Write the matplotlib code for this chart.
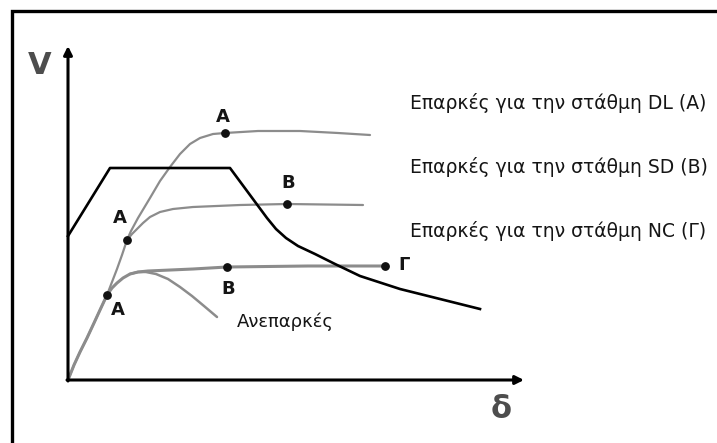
import matplotlib.pyplot as plt

# capacity / demand curve (black)
demand_d = [0, 42, 162, 199, 208, 218, 230, 247, 267, 292, 332, 372, 412]
demand_v = [144, 212, 212, 162, 151, 142, 134, 126, 116, 104, 91, 81, 71]

# gray capacity curves
dl_d = [0, 6, 12, 19, 26, 32, 39, 44, 49, 54, 59, 63, 70, 82, 92, 102, 112,
        122, 132, 145, 157, 190, 232, 270, 302]
dl_v = [0, 15, 28, 42, 57, 70, 85, 98, 111, 125, 140, 149, 162, 182, 199, 213,
        226, 236, 242, 246, 247, 249, 249, 247, 245]

sd_d = [59, 64, 69, 75, 82, 92, 105, 125, 172, 219, 295]
sd_v = [140, 146, 151, 157, 163, 168, 171, 173, 175, 176, 175]

nc_d = [0, 6, 12, 19, 26, 32, 39, 44, 49, 55, 62, 70, 80, 125, 159, 240, 317]
nc_v = [0, 15, 28, 42, 57, 70, 85, 92, 97, 102, 106, 108, 109, 111, 113, 114, 114]

weak_d = [62, 70, 78, 88, 100, 112, 124, 136, 149]
weak_v = [106, 108, 108, 106, 101, 93, 84, 74, 63]

# marked points and their labels
pt_d = [157, 59, 39, 219, 159, 317]
pt_v = [247, 140, 85, 176, 113, 114]
lbl_text = ["A", "A", "A", "B", "B", "Γ"]
lbl_d = [155, 52, 50, 220, 160, 336]
lbl_v = [263, 162, 70, 197, 91, 115]

legend_text = ["Επαρκές για την στάθμη DL (A)",
               "Επαρκές για την στάθμη SD (B)",
               "Επαρκές για την στάθμη NC (Γ)"]
legend_v = [277, 213, 149]


def main():
    fig = plt.figure(figsize=(7.17, 4.43), dpi=100)
    ax = fig.add_axes([0, 0, 1, 1])
    ax.set_xlim(-68, 649)
    ax.set_ylim(-63, 380)
    ax.axis("off")

    # outer frame (left and top only, rest is cut off)
    ax.plot([-56, -56, 649], [-63, 369, 369], color="black", lw=2.4,
            solid_joinstyle="miter")

    # axes arrows
    ax.annotate("", xy=(0, 334), xytext=(0, -1),
                arrowprops=dict(arrowstyle="-|>,head_length=0.5,head_width=0.25",
                                color="black", lw=2.2, shrinkA=0, shrinkB=0))
    ax.annotate("", xy=(456, 0), xytext=(-1, 0),
                arrowprops=dict(arrowstyle="-|>,head_length=0.5,head_width=0.25",
                                color="black", lw=2.2, shrinkA=0, shrinkB=0))

    gray = "#8c8c8c"
    ax.plot(nc_d, nc_v, color=gray, lw=2.2, solid_capstyle="round",
            solid_joinstyle="round")
    ax.plot(dl_d, dl_v, color=gray, lw=1.6, solid_capstyle="round",
            solid_joinstyle="round")
    ax.plot(sd_d, sd_v, color=gray, lw=1.6, solid_capstyle="round",
            solid_joinstyle="round")
    ax.plot(weak_d, weak_v, color=gray, lw=1.8, solid_capstyle="round",
            solid_joinstyle="round")
    ax.plot(demand_d, demand_v, color="black", lw=1.9, solid_joinstyle="round")

    ax.scatter(pt_d, pt_v, s=28, color="#111111", zorder=5)

    for t, x, y in zip(lbl_text, lbl_d, lbl_v):
        ax.text(x, y, t, fontsize=13, fontweight="bold", color="#151515",
                ha="center", va="center")

    ax.text(169, 58, "Ανεπαρκές", fontsize=13, color="#151515",
            ha="left", va="center")

    for t, y in zip(legend_text, legend_v):
        ax.text(342, y, t, fontsize=13.5, color="#151515", ha="left", va="center")

    ax.text(-28, 315, "V", fontsize=22, fontweight="bold", color="#4d4d4d",
            ha="center", va="center")
    ax.text(433, -30, "δ", fontsize=22, fontweight="bold", color="#4d4d4d",
            ha="center", va="center")

    fig.savefig("out.png", dpi=100, facecolor="white")


if __name__ == "__main__":
    main()
